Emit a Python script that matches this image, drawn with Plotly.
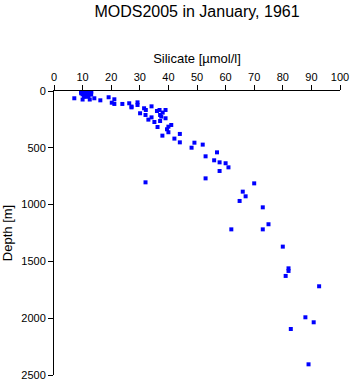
import plotly.graph_objects as go

# Silicate [umol/l] and Depth [m]
silicate = [
    9.5, 10.0, 10.5, 11.0, 11.5, 12.0, 12.5, 13.0,
    9.5, 10.0, 10.5, 11.0, 11.5, 12.0, 12.5, 13.0,
    9.5, 10.0, 10.5, 11.0, 11.5, 12.0, 12.5,
    10.0, 10.5, 11.0, 11.5, 12.0, 12.5, 13.0,
    10.5, 11.0, 12.0, 10.0, 12.5,
    7.1, 14.1, 16.2, 19.1, 20.2, 21.1, 21.1, 23.9, 26.3, 27.1, 27.1,
    29.2, 29.2, 30.1, 31.5, 32.1, 32.0, 33.0, 34.1, 34.1, 35.1, 36.2,
    36.0, 36.9, 37.1, 37.1, 38.0, 37.5, 39.0, 39.0, 37.9, 39.5, 40.0, 41.0, 40.0,
    42.1, 44.0, 44.0, 49.1, 48.1, 52.0, 53.0, 57.0, 56.0, 57.9, 60.0, 61.0,
    57.9, 53.0, 32.0, 66.0, 67.0, 64.9, 62.0, 70.0, 73.0, 75.0, 73.0,
    80.0, 82.0, 82.0, 81.0, 92.7, 87.9, 90.8, 82.8, 89.0,
]
depth = [
    0, 0, 0, 0, 0, 0, 0, 0,
    10, 10, 10, 10, 10, 10, 10, 10,
    20, 20, 20, 20, 20, 20, 20,
    30, 30, 30, 30, 30, 30, 30,
    50, 50, 50, 75, 75,
    64, 64, 82, 55, 103, 73, 114, 114, 108, 137, 144,
    100, 123, 196, 152, 167, 211, 252, 135, 232, 273, 317,
    176, 167, 211, 264, 190, 225, 167, 240, 393, 337, 314, 299, 363,
    419, 378, 452, 455, 499, 472, 575, 540, 610, 628, 636, 672,
    704, 769, 804, 886, 927, 968, 1218, 813, 1024, 1173, 1218,
    1370, 1561, 1584, 1628, 1719, 1992, 2036, 2095, 2406,
]

x_ticks = [0, 10, 20, 30, 40, 50, 60, 70, 80, 90, 100]
y_ticks = [0, 500, 1000, 1500, 2000, 2500]

fig = go.Figure()
fig.add_trace(go.Scatter(
    x=silicate, y=depth, mode="markers",
    marker=dict(symbol="square", size=4, color="#0000ff", line=dict(width=0)),
    showlegend=False,
))

font = dict(family="Liberation Sans, Arial, sans-serif", size=11, color="black")
fig.update_layout(
    width=351, height=384,
    margin=dict(l=54, r=11, t=91, b=9, autoexpand=False),
    paper_bgcolor="white", plot_bgcolor="white",
    font=font,
    title=dict(text="MODS2005 in January, 1961", x=0.5, xref="paper",
               y=1 - 11 / 384, yref="container", yanchor="middle",
               xanchor="center",
               font=dict(family="Liberation Sans, Arial, sans-serif", size=16, color="black")),
    xaxis=dict(
        side="top", range=[0, 100], tickmode="array", tickvals=x_ticks,
        ticks="outside", ticklen=5, tickcolor="black", showline=True,
        linecolor="black", linewidth=1, showgrid=False, zeroline=False,
        automargin=False,
        title=dict(text="Silicate [µmol/l]", standoff=4),
    ),
    yaxis=dict(
        range=[2500, 0], tickmode="array", tickvals=y_ticks,
        ticks="outside", ticklen=5, tickcolor="black", showline=True,
        linecolor="black", linewidth=1, showgrid=False, zeroline=False,
        automargin=False,
        title=dict(text="Depth [m]", standoff=6),
    ),
)

fig.write_html("out.html")
